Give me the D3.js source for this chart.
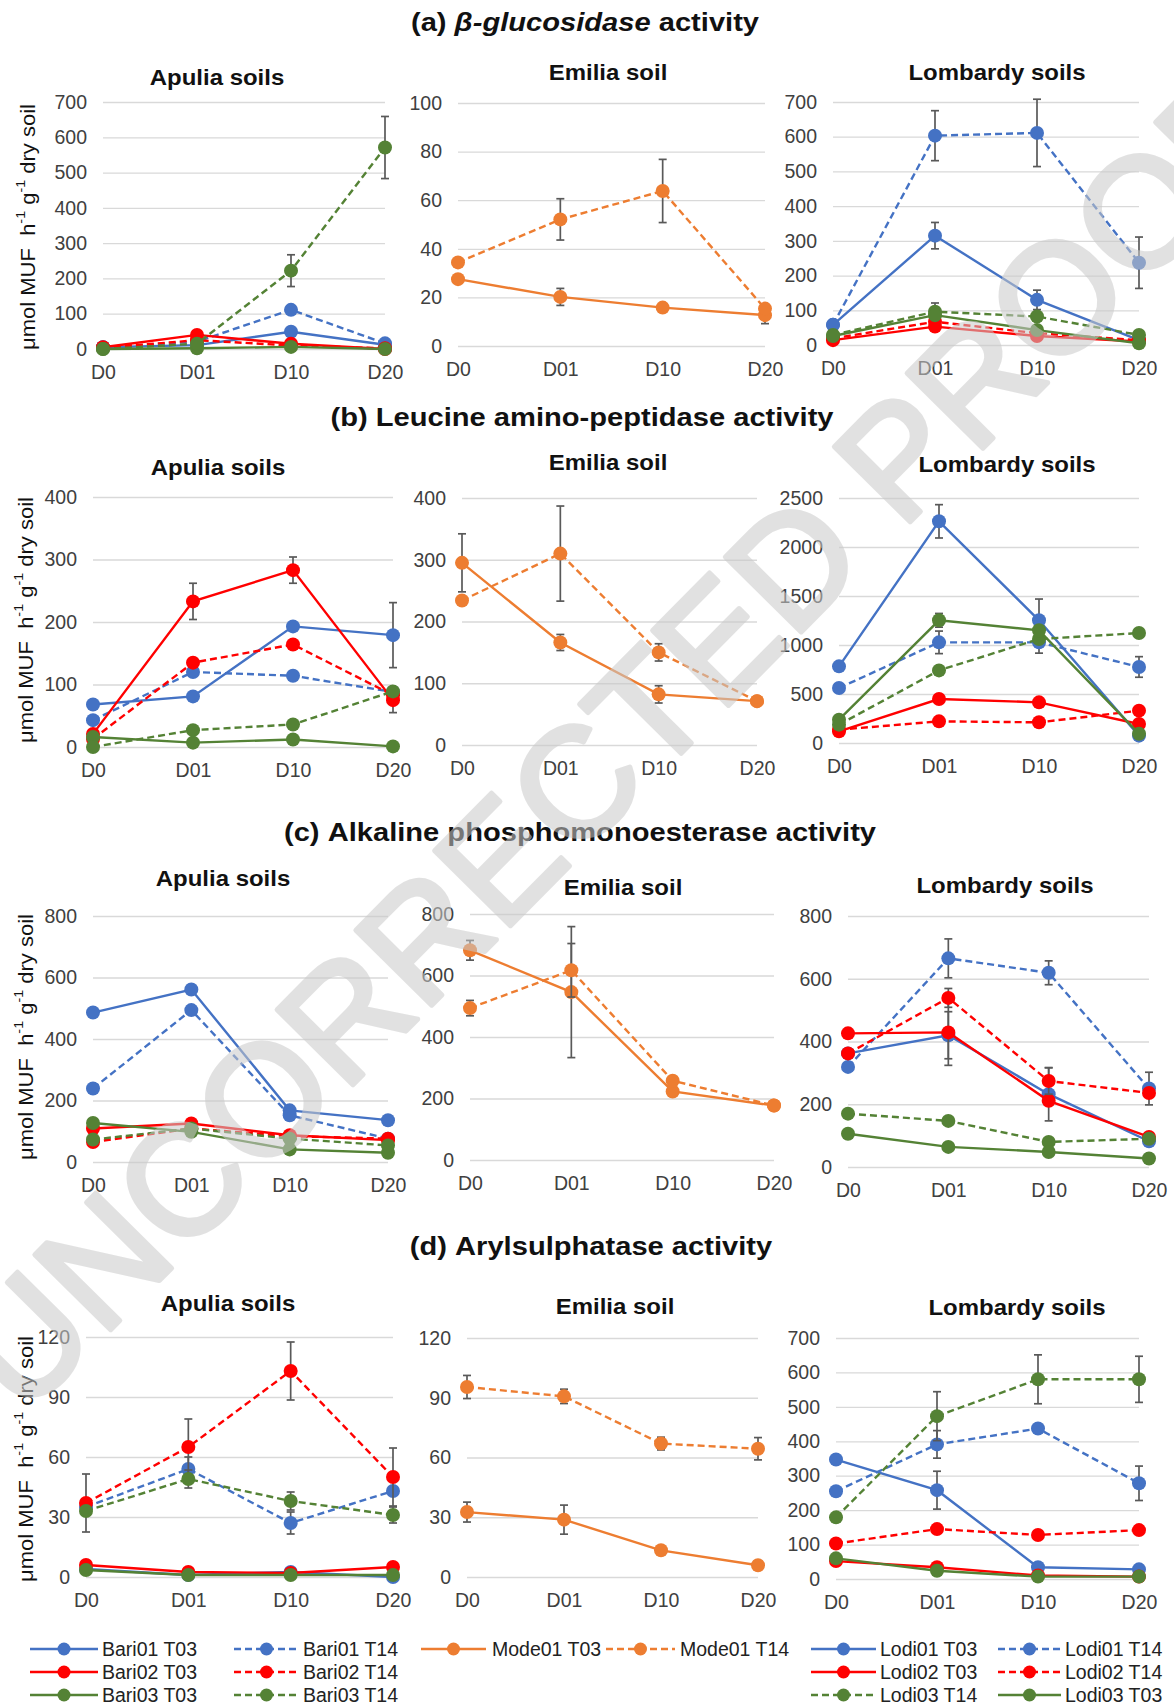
<!DOCTYPE html>
<html><head><meta charset="utf-8">
<script src="https://cdn.jsdelivr.net/npm/d3@7"></script>
<style>body{margin:0;background:#fff}</style>
</head><body>
<svg id="c" width="1174" height="1706"></svg>
<script>
// ---------- DATA ----------
const days = ["D0", "D01", "D10", "D20"];
const bariNames = ["Bari01 T03", "Bari01 T14", "Bari02 T03", "Bari02 T14", "Bari03 T03", "Bari03 T14"];
const modeNames = ["Mode01 T03", "Mode01 T14"];
const lodiNames = ["Lodi01 T03", "Lodi01 T14", "Lodi02 T03", "Lodi02 T14", "Lodi03 T14", "Lodi03 T03"];

const rowTitles = ["β-glucosidase activity", "Leucine amino-peptidase activity", "Alkaline phosphomonoesterase activity", "Arylsulphatase activity"];
const rowLetters = ["(a)", "(b)", "(c)", "(d)"];
const colTitles = ["Apulia soils", "Emilia soil", "Lombardy soils"];

// (a) beta-glucosidase
const glucApulia = [[5,11,49,12],[5,21,111,16],[5,40,15,0],[3,25,10,2],[0,2,6,0],[0,15,222,571]];
const glucApuliaErr = [[0,0,0,0],[0,0,0,0],[0,0,0,0],[0,0,0,0],[0,0,0,0],[0,0,45,88]];
const glucEmilia = [[27.5,20.2,15.8,12.7],[34.4,52.1,63.8,15.4]];
const glucEmiliaErr = [[0,3.5,0,3.5],[0,8.5,13,0]];
const glucLombardy = [[58,315,130,14],[58,603,611,237],[14,53,26,10],[19,67,34,14],[29,96,82,29],[26,86,43,5]];
const glucLombardyErr = [[0,38,28,0],[0,72,97,74],[0,0,0,0],[0,0,0,0],[0,25,0,0],[0,0,0,0]];
// (b) leucine amino-peptidase
const leuApulia = [[68,81,193,179],[43,120,114,88],[21,233,283,75],[13,135,164,83],[16,7,12,1],[0,27,36,89]];
const leuApuliaErr = [[0,0,0,52],[0,0,0,0],[0,29,21,20],[0,0,6,0],[0,0,0,0],[0,0,0,0]];
const leuEmilia = [[295,166,82,71],[234,310,150,71]];
const leuEmiliaErr = [[47,13,14,0],[0,77,14,0]];
const leuLombardy = [[782,2262,1252,75],[561,1027,1027,776],[119,449,415,194],[136,221,211,330],[187,741,1061,1122],[238,1252,1150,95]];
const leuLombardyErr = [[0,170,217,0],[0,115,110,105],[0,0,0,0],[0,0,0,0],[0,0,0,0],[0,70,0,0]];
// (c) alkaline phosphomonoesterase
const alkApulia = [[486,561,168,136],[239,494,152,76],[109,125,87,71],[65,109,84,76],[127,98,41,30],[73,109,76,54]];
const alkApuliaErr = [[0,0,0,0],[0,12,0,0],[0,0,0,0],[0,0,0,0],[0,0,0,0],[0,0,0,0]];
const alkEmilia = [[682,546,223,177],[494,617,258,177]];
const alkEmiliaErr = [[32,213,0,8],[25,87,0,0]];
const alkLombardy = [[362,420,232,82],[319,665,619,250],[426,429,211,96],[362,539,274,236],[170,147,80,90],[106,64,48,27]];
const alkLombardyErr = [[0,75,85,0],[0,62,38,52],[15,105,0,0],[0,30,42,0],[0,0,0,0],[0,0,0,0]];
// (d) arylsulphatase
const arylApulia = [[4,1,2.5,0],[35,54,27,43],[6,2.5,2,5],[37,65,103,50],[3.5,1,1,1],[33,49,38,31]];
const arylApuliaErr = [[0,0,0,0],[0,6,5.5,0],[0,0,0,0],[14.5,14,14.5,14.5],[0,0,0,0],[0,4.5,4.5,4]];
const arylEmilia = [[32.6,28.8,13.4,5.9],[95.4,90.7,67,64.4]];
const arylEmiliaErr = [[5,7.3,0,0],[5.8,3.6,3.2,5.6]];
const arylLombardy = [[347,258,34,28],[255,391,437,278],[52,34,10,7],[103,145,128,142],[179,473,580,580],[60,24,7,7]];
const arylLombardyErr = [[0,55,0,0],[0,40,0,50],[0,0,0,0],[0,0,0,0],[0,71,71,67],[0,0,0,0]];

const legendCols = [
  ["Bari01 T03", "Bari02 T03", "Bari03 T03"],
  ["Bari01 T14", "Bari02 T14", "Bari03 T14"],
  ["Mode01 T03"],
  ["Mode01 T14"],
  ["Lodi01 T03", "Lodi02 T03", "Lodi03 T14"],
  ["Lodi01 T14", "Lodi02 T14", "Lodi03 T03"]
];
const watermark = "UNCORRECTED PROOF";

// ---------- LAYOUT / STYLE ----------
const FONT = "'Liberation Sans', Arial, sans-serif";
const svg = d3.select("#c");
svg.append("rect").attr("width", 1174).attr("height", 1706).attr("fill", "#fff");

function colorOf(n) {
  if (n.startsWith("Mode")) return "#ED7D31";
  const k = n.slice(4, 6);
  return k === "01" ? "#4472C4" : k === "02" ? "#FF0000" : "#548235";
}
const isDashed = n => n.endsWith("T14");

const panels = [
  {names: bariNames, vals: glucApulia, errs: glucApuliaErr, max: 700, step: 100, x0: 103, x1: 385, yT: 102, yB: 349, t: 0, tx: 217, ty: 77},
  {names: modeNames, vals: glucEmilia, errs: glucEmiliaErr, max: 100, step: 20, x0: 458, x1: 765, yT: 103, yB: 346, t: 1, tx: 608, ty: 72},
  {names: lodiNames, vals: glucLombardy, errs: glucLombardyErr, max: 700, step: 100, x0: 833, x1: 1139, yT: 102, yB: 345, t: 2, tx: 997, ty: 72},
  {names: bariNames, vals: leuApulia, errs: leuApuliaErr, max: 400, step: 100, x0: 93, x1: 393, yT: 497, yB: 747, t: 0, tx: 218, ty: 467},
  {names: modeNames, vals: leuEmilia, errs: leuEmiliaErr, max: 400, step: 100, x0: 462, x1: 757, yT: 498, yB: 745, t: 1, tx: 608, ty: 462},
  {names: lodiNames, vals: leuLombardy, errs: leuLombardyErr, max: 2500, step: 500, x0: 839, x1: 1139, yT: 498, yB: 743, t: 2, tx: 1007, ty: 464},
  {names: bariNames, vals: alkApulia, errs: alkApuliaErr, max: 800, step: 200, x0: 93, x1: 388, yT: 916, yB: 1162, t: 0, tx: 223, ty: 878},
  {names: modeNames, vals: alkEmilia, errs: alkEmiliaErr, max: 800, step: 200, x0: 470, x1: 774, yT: 914, yB: 1160, t: 1, tx: 623, ty: 887},
  {names: lodiNames, vals: alkLombardy, errs: alkLombardyErr, max: 800, step: 200, x0: 848, x1: 1149, yT: 916, yB: 1167, t: 2, tx: 1005, ty: 885},
  {names: bariNames, vals: arylApulia, errs: arylApuliaErr, max: 120, step: 30, x0: 86, x1: 393, yT: 1337, yB: 1577, t: 0, tx: 228, ty: 1303},
  {names: modeNames, vals: arylEmilia, errs: arylEmiliaErr, max: 120, step: 30, x0: 467, x1: 758, yT: 1338, yB: 1577, t: 1, tx: 615, ty: 1306},
  {names: lodiNames, vals: arylLombardy, errs: arylLombardyErr, max: 700, step: 100, x0: 836, x1: 1139, yT: 1338, yB: 1579, t: 2, tx: 1017, ty: 1307}
];

const mainTitlePos = [[585, 31], [582, 426], [580, 841], [591, 1255]];
const yTitlePos = [[27, 227], [25, 620], [25, 1037], [25, 1459]];

function drawPanel(p) {
  const g = svg.append("g");
  const x = d3.scalePoint().domain(days).range([p.x0, p.x1]);
  const y = d3.scaleLinear().domain([0, p.max]).range([p.yB, p.yT]);
  const ticks = d3.range(0, p.max + p.step / 2, p.step);

  const ya = g.append("g").attr("transform", `translate(${p.x0},0)`)
    .call(d3.axisLeft(y).tickValues(ticks).tickFormat(d3.format("d")).tickSize(-(p.x1 - p.x0)).tickPadding(16));
  ya.select(".domain").remove();
  ya.selectAll(".tick line").attr("stroke", "#D9D9D9").attr("stroke-width", 1.3);
  ya.selectAll(".tick text").attr("font-family", FONT).attr("font-size", 19.5).attr("fill", "#404040");

  const xa = g.append("g").attr("transform", `translate(0,${p.yB})`)
    .call(d3.axisBottom(x).tickSize(0).tickPadding(16));
  xa.select(".domain").remove();
  xa.selectAll(".tick text").attr("font-family", FONT).attr("font-size", 19.5).attr("fill", "#404040");

  g.append("text").attr("transform", `translate(${p.tx},${p.ty + 8}) scale(1.09,1)`).attr("text-anchor", "middle")
    .attr("font-family", FONT).attr("font-size", 22).attr("font-weight", "bold").attr("fill", "#111")
    .text(colTitles[p.t]);

  const line = d3.line().x((d, i) => x(days[i])).y(d => y(d));
  p.names.forEach((n, si) => {
    const col = colorOf(n);
    const vals = p.vals[si], errs = p.errs[si];
    const sg = g.append("g");
    vals.forEach((v, i) => {
      const e = errs[i];
      if (!e) return;
      const cx = x(days[i]);
      const eg = sg.append("g").attr("stroke", "#595959").attr("stroke-width", 1.7);
      eg.append("line").attr("x1", cx).attr("x2", cx).attr("y1", y(v - e)).attr("y2", y(v + e));
      eg.append("line").attr("x1", cx - 4).attr("x2", cx + 4).attr("y1", y(v - e)).attr("y2", y(v - e));
      eg.append("line").attr("x1", cx - 4).attr("x2", cx + 4).attr("y1", y(v + e)).attr("y2", y(v + e));
    });
    sg.append("path").datum(vals).attr("d", line).attr("fill", "none").attr("stroke", col)
      .attr("stroke-width", 2.4).attr("stroke-dasharray", isDashed(n) ? "7,4" : null);
    sg.selectAll("circle").data(vals).join("circle")
      .attr("cx", (d, i) => x(days[i])).attr("cy", d => y(d)).attr("r", 7).attr("fill", col);
  });
}
panels.forEach(drawPanel);

// Main row titles
rowTitles.forEach((t, i) => {
  const tx = svg.append("text").attr("transform", `translate(${mainTitlePos[i][0]},${mainTitlePos[i][1]}) scale(1.12,1)`)
    .attr("text-anchor", "middle").attr("font-family", FONT).attr("font-size", 26)
    .attr("font-weight", "bold").attr("fill", "#111");
  tx.append("tspan").text(rowLetters[i] + " ");
  if (i === 0) {
    tx.append("tspan").attr("font-style", "italic").text(t.split(" ")[0]);
    tx.append("tspan").text(" activity");
  } else tx.append("tspan").text(t);
});

// Y-axis titles
yTitlePos.forEach(([cx, cy]) => {
  const t = svg.append("text").attr("transform", `translate(${cx},${cy}) rotate(-90) scale(1.1,1)`)
    .attr("text-anchor", "middle").attr("dominant-baseline", "central")
    .attr("font-family", FONT).attr("font-size", 20).attr("fill", "#111");
  t.append("tspan").text("μmol MUF\u00A0 h");
  t.append("tspan").attr("font-size", 13).attr("dy", -7).text("-1");
  t.append("tspan").attr("dy", 7).text(" g");
  t.append("tspan").attr("font-size", 13).attr("dy", -7).text("-1");
  t.append("tspan").attr("dy", 7).text(" dry soil");
});

// Legend
const legX = [[30, 98, 102], [234, 299, 303], [421, 486, 492], [606, 675, 680], [811, 876, 880], [998, 1061, 1065]];
const legY = [1649, 1672, 1695];
legendCols.forEach((colNames, ci) => {
  colNames.forEach((n, ri) => {
    const [a, b, tx] = legX[ci];
    const yy = legY[ri];
    const col = colorOf(n);
    svg.append("line").attr("x1", a).attr("x2", b).attr("y1", yy).attr("y2", yy)
      .attr("stroke", col).attr("stroke-width", 2.4).attr("stroke-dasharray", isDashed(n) ? "7,4" : null);
    svg.append("circle").attr("cx", (a + b) / 2).attr("cy", yy).attr("r", 6.5).attr("fill", col);
    svg.append("text").attr("x", tx).attr("y", yy + 7).attr("font-family", FONT).attr("font-size", 19.5)
      .attr("fill", "#222").text(n);
  });
});

// Watermark
svg.append("text").attr("transform", "translate(618,741) rotate(-45.3)")
  .attr("text-anchor", "middle").attr("dominant-baseline", "central")
  .attr("font-family", FONT).attr("font-size", 155)
  .attr("fill", "#cacaca").attr("stroke", "#cacaca").attr("stroke-width", 5).attr("stroke-linejoin", "round")
  .attr("opacity", 0.55)
  .text(watermark);
</script>
</body></html>
